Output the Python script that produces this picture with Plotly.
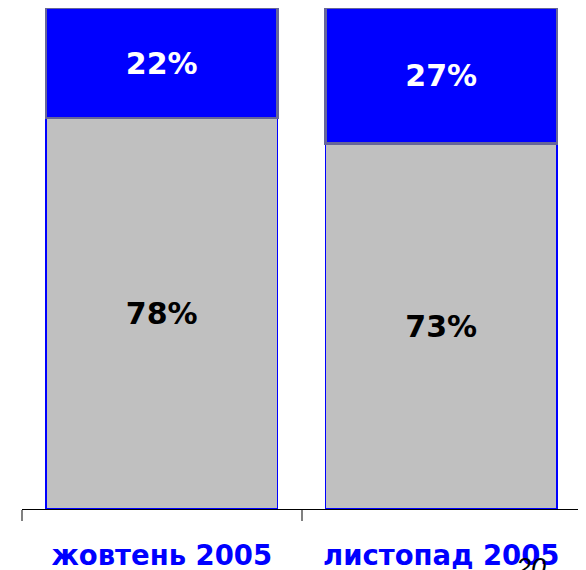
import plotly.graph_objects as go

categories = ["жовтень 2005", "листопад 2005"]
share_gray = [78, 73]
share_blue = [22, 27]
labels_gray = ["78%", "73%"]
labels_blue = ["22%", "27%"]
corner_note = "20"

FONT = "DejaVu Sans"

fig = go.Figure()
fig.add_trace(go.Bar(
    x=categories, y=share_gray, text=labels_gray,
    textposition="inside", insidetextanchor="middle",
    textfont=dict(family=FONT, size=30, color="black", weight="bold"),
    marker=dict(color="#C0C0C0", line=dict(color="#0000FF", width=1.5)),
    width=0.83, hoverinfo="skip",
))
fig.add_trace(go.Bar(
    x=categories, y=share_blue, text=labels_blue,
    textposition="inside", insidetextanchor="middle",
    textfont=dict(family=FONT, size=30, color="white", weight="bold"),
    marker=dict(color="#0000FF", line=dict(color="#666699", width=2.5)),
    width=0.83, hoverinfo="skip",
))

fig.add_annotation(
    text=corner_note, xref="paper", yref="paper", x=0.91, y=-0.083,
    xanchor="center", yanchor="top", showarrow=False,
    font=dict(family="Liberation Sans", size=27, color="black", style="italic"),
)

fig.update_layout(
    barmode="stack",
    width=586, height=570,
    margin=dict(l=14, r=13, t=0, b=69, autoexpand=False),
    paper_bgcolor="white", plot_bgcolor="white",
    showlegend=False,
    uniformtext=dict(mode=False),
    xaxis=dict(
        automargin=False,
        showline=True, linecolor="black", linewidth=1,
        ticks="outside", tickson="boundaries", ticklen=11,
        tickcolor="#808080", tickwidth=2,
        tickfont=dict(family=FONT, size=27.5, color="#0000FF", weight="bold"),
        ticklabelstandoff=22,
        showgrid=False, zeroline=False,
    ),
    yaxis=dict(range=[0, 100], visible=False, showgrid=False, zeroline=False,
               automargin=False),
)

fig.write_html("out.html")
